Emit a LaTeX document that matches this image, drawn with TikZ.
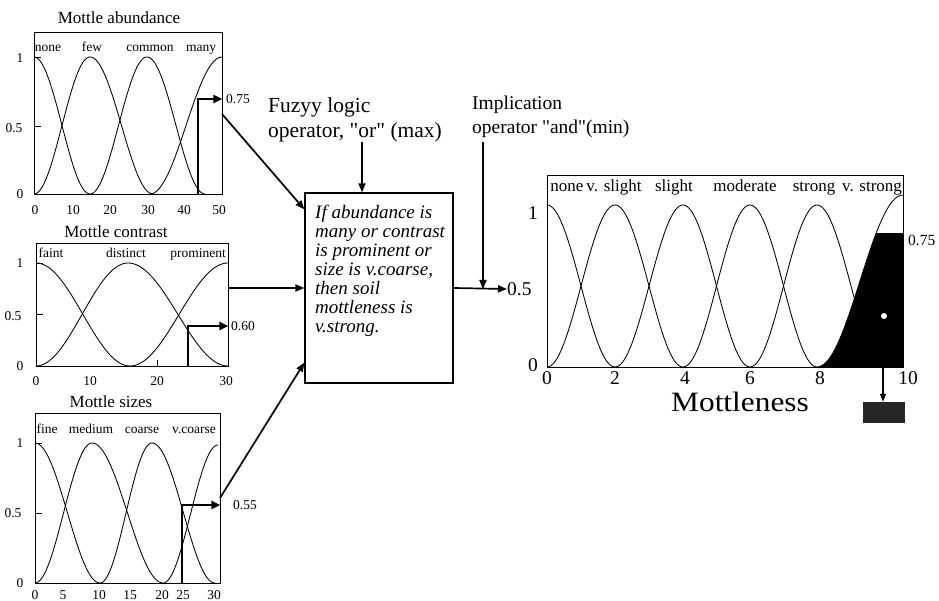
\documentclass[tikz,border=0pt]{standalone}
\usepackage{fontspec}
\usepackage{graphicx}
\setmainfont{Liberation Serif}[Ligatures=TeXOff]
\usetikzlibrary{arrows.meta,calc}
\newcommand{\mfup}[4]{\draw[mfcurve] plot[domain=#1:#2,samples=50] (\x,{#3-#4*0.5*(1-cos((\x-#1)/(#2-#1)*180))});}
\newcommand{\mfdn}[4]{\draw[mfcurve] plot[domain=#1:#2,samples=50] (\x,{#3-#4*0.5*(1+cos((\x-#1)/(#2-#1)*180))});}
\tikzset{
  frame/.style={draw, line width=0.9pt, inner sep=0pt},
  mfcurve/.style={line width=0.85pt},
  conn/.style={line width=1.7pt, -{Triangle[length=9pt,width=7pt]}},
  markarrow/.style={line width=2.4pt, line join=miter, -{Triangle[length=9pt,width=8pt]}},
  ptitle/.style={font=\fontsize{17}{19}\selectfont, inner sep=0pt},
  mlab/.style={font=\fontsize{13.5}{15}\selectfont, inner sep=0pt, anchor=base},
  tnum/.style={font=\fontsize{13.5}{15}\selectfont, inner sep=0pt},
  rlab/.style={font=\fontsize{17}{19}\selectfont, inner sep=0pt, anchor=base},
  bignum/.style={font=\fontsize{19.5}{21}\selectfont, inner sep=0pt},
  ruletext/.style={font=\fontsize{19}{19}\selectfont\itshape, align=left, inner sep=0pt},
  optext/.style={font=\fontsize{21.5}{25}\selectfont, align=left, inner sep=0pt},
  imtext/.style={font=\fontsize{19.5}{24}\selectfont, align=left, inner sep=0pt},
  tick/.style={line width=0.8pt}
}
\begin{document}
\begin{tikzpicture}[x=1pt,y=-1pt]
\useasboundingbox (0,0) rectangle (939,601);

% ---------- Mottle abundance ----------
\node[ptitle] (tA) at (119,18) {Mottle abundance};
\node[frame, minimum width=188pt, minimum height=162pt] (pA) at (128,113) {};
\node[mlab] (lA1) at (48,52) {none};
\node[mlab] (lA2) at (92,52) {few};
\node[mlab] (lA3) at (150,52) {common};
\node[mlab] (lA4) at (201,52) {many};
\mfdn{34}{90}{194}{137}
\mfup{34}{90}{194}{137}\mfdn{90}{153}{194}{137}
\mfup{90}{147}{194}{137}\mfdn{147}{205}{194}{137}
\mfup{150}{222}{194}{137}
\draw[tick] (34,57) -- (41,57);
\draw[tick] (34,126) -- (41,126);
\node[tnum] (yA1) at (20,58) {1};
\node[tnum] (yA2) at (14,128) {0.5};
\node[tnum] (yA3) at (20,194) {0};
\node[tnum] (xA0) at (35,210) {0};
\node[tnum] (xA1) at (73,210) {10};
\node[tnum] (xA2) at (110,210) {20};
\node[tnum] (xA3) at (148,210) {30};
\node[tnum] (xA4) at (184,210) {40};
\node[tnum] (xA5) at (219,210) {50};
\coordinate (mA) at (198,99);
\draw[markarrow] (mA |- pA.south) -- (mA) -- (mA -| pA.east);
\node[tnum, anchor=west] (vA) at (226,99) {0.75};

% ---------- Mottle contrast ----------
\node[ptitle] (tC) at (116,232) {Mottle contrast};
\node[frame, minimum width=192pt, minimum height=123pt] (pC) at (132,304.5) {};
\node[mlab] (lC1) at (51,258) {faint};
\node[mlab] (lC2) at (126,258) {distinct};
\node[mlab] (lC3) at (198,258) {prominent};
\mfdn{36}{130}{366}{103}
\mfup{36}{128}{366}{103}\mfdn{128}{228}{366}{103}
\mfup{130}{228}{366}{103}
\draw[tick] (36,263) -- (43,263);
\draw[tick] (36,314.5) -- (43,314.5);
\draw[tick] (157,366) -- (157,360);
\node[tnum] (yC1) at (20,263) {1};
\node[tnum] (yC2) at (13,316) {0.5};
\node[tnum] (yC3) at (20,366) {0};
\node[tnum] (xC0) at (36,381) {0};
\node[tnum] (xC1) at (90,381) {10};
\node[tnum] (xC2) at (157,381) {20};
\node[tnum] (xC3) at (226,381) {30};
\coordinate (mC) at (188,326);
\draw[markarrow] (mC |- pC.south) -- (mC) -- (mC -| pC.east);
\node[tnum, anchor=west] (vC) at (231,326) {0.60};

% ---------- Mottle sizes ----------
\node[ptitle] (tS) at (111,402) {Mottle sizes};
\node[frame, minimum width=185pt, minimum height=170pt] (pS) at (127.5,498) {};
\node[mlab] (lS1) at (47,433) {fine};
\node[mlab] (lS2) at (91,433) {medium};
\node[mlab] (lS3) at (142,433) {coarse};
\node[mlab] (lS4) at (194,433) {v.coarse};
\mfdn{35}{100}{583}{140}
\mfup{35}{92}{583}{140}\mfdn{92}{163}{583}{140}
\mfup{100}{152}{583}{140}\mfdn{152}{215}{583}{140}
\mfup{163}{218}{583}{138}
\draw[tick] (35,443) -- (42,443);
\draw[tick] (35,513) -- (42,513);
\node[tnum] (yS1) at (20,443) {1};
\node[tnum] (yS2) at (13,513) {0.5};
\node[tnum] (yS3) at (20,583) {0};
\node[tnum] (xS0) at (35,595) {0};
\node[tnum] (xS1) at (63,595) {5};
\node[tnum] (xS2) at (99,595) {10};
\node[tnum] (xS3) at (130,595) {15};
\node[tnum] (xS4) at (162,595) {20};
\node[tnum] (xS5) at (183,595) {25};
\node[tnum] (xS6) at (214,595) {30};
\coordinate (mS) at (182,505);
\draw[markarrow] (mS |- pS.south) -- (mS) -- (mS -| pS.east);
\node[tnum, anchor=west] (vS) at (233,505) {0.55};

% ---------- rule box ----------
\node[draw, line width=1.3pt, minimum width=148pt, minimum height=190pt, inner sep=0pt] (rule) at (379,288) {};
\node[ruletext, anchor=north west] (rt) at (315,205) {If abundance is\\many or contrast\\is prominent or\\size is v.coarse,\\then soil\\mottleness is\\v.strong.};

\coordinate (a1) at (222,114);
\coordinate (c1) at (228,288);
\coordinate (s1) at (220,498);
\draw[conn] (a1) -- ($(rule.north west)+(0,17)$);
\draw[conn] (c1) -- (rule.west);
\draw[conn] (s1) -- ($(rule.south west)+(0,-21)$);

% ---------- operators ----------
\node[optext, anchor=west] (fz) at (268,120) {Fuzyy logic\\operator, "or" (max)};
\coordinate (fzs) at (362,142);
\draw[conn] (fzs) -- (fzs |- rule.north);

\node[imtext, anchor=west] (im) at (472,117) {Implication\\operator "and"(min)};
\node[bignum, anchor=west] (rh) at (507,289) {0.5};
\draw[conn] (rule.east) -- (rh.west);
\coordinate (ims) at (483,142);
\draw[conn] (ims) -- (ims |- rh.west);

% ---------- Mottleness plot ----------
\node[frame, minimum width=356pt, minimum height=192pt] (pR) at (725,271) {};
\begin{scope}
  \clip (817,234) rectangle (903,367);
  \fill[black] plot[domain=817:903,samples=60] (\x,{367-172*0.5*(1-cos((\x-817)/86*180))}) -- (903,367) -- cycle;
\end{scope}
\fill[white] (884,316) circle (3pt);
\mfdn{547}{615}{367}{162}
\mfup{547}{615}{367}{162}\mfdn{615}{683}{367}{162}
\mfup{615}{683}{367}{162}\mfdn{683}{750}{367}{162}
\mfup{683}{750}{367}{162}\mfdn{750}{817}{367}{162}
\mfup{750}{817}{367}{162}\mfdn{817}{885}{367}{162}
\mfup{817}{903}{367}{172}
\node[rlab] (lR1) at (567,192) {none};
\node[rlab] (lR2) at (614,192) {v. slight};
\node[rlab] (lR3) at (674,192) {slight};
\node[rlab] (lR4) at (745,192) {moderate};
\node[rlab] (lR5) at (814,192) {strong};
\node[rlab] (lR6) at (872,192) {v. strong};
\node[bignum] (yR1) at (533,213) {1};
\node[bignum] (yR3) at (533,365) {0};
\node[font=\fontsize{15.5}{17}\selectfont, inner sep=0pt, anchor=west] (vR) at (908,240) {0.75};
\node[bignum] (xR0) at (547,378) {0};
\node[bignum] (xR1) at (615,378) {2};
\node[bignum] (xR2) at (685,378) {4};
\node[bignum] (xR3) at (750,378) {6};
\node[bignum] (xR4) at (820,378) {8};
\node[bignum] (xR5) at (908,378) {10};
\node[font=\fontsize{28}{30}\selectfont, inner sep=0pt, anchor=base] (mt) at (740,411) {\scalebox{1.12}[1]{Mottleness}};
\node[fill=black!85, minimum width=42pt, minimum height=21pt, inner sep=0pt] (blob) at (884,412.5) {};
\coordinate (ar) at (883,367);
\draw[line width=1.2pt, -{Triangle[length=8pt,width=6pt]}] (ar) -- (ar |- blob.north);
\end{tikzpicture}
\end{document}
